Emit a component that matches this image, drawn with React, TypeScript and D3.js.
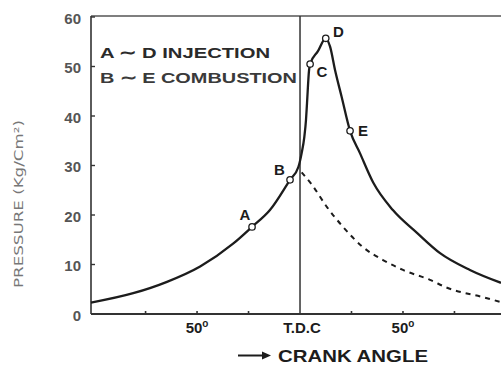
import { scaleLinear, line, curveMonotoneX } from "d3";

// crank angle (deg, TDC = 0) and cylinder pressure (kg/cm2)
const solidAngle = [-101.5, -81, -64.6, -48.5, -32.5, -23.3, -14.6, -4.85, -0.8, 0.8, 2.1, 2.9, 3.4, 4.4, 4.9, 8.7, 12.5, 14.6, 17.0, 20.2, 24.3, 29.1, 35.6, 45.1, 56.8, 68, 82.5, 97.6];
const solidPressure = [2.3, 4.2, 6.5, 9.6, 14.2, 17.6, 21.0, 27.1, 29.7, 32.5, 35.8, 39.2, 42.6, 49.3, 50.5, 53.1, 55.7, 54.0, 49.3, 43.9, 37.0, 32.5, 26.5, 21.0, 16.4, 12.3, 8.9, 6.3];

// motoring (no combustion) curve
const dashAngle = [0.8, 5.8, 13.1, 20.9, 30.6, 40.3, 50, 63.1, 71.4, 88.8, 97.6];
const dashPressure = [28.6, 26.1, 21.6, 17.6, 13.5, 10.9, 8.9, 6.9, 5.3, 3.4, 2.4];

const pointNames = ["A", "B", "C", "D", "E"];
const pointAngle = [-23.3, -4.85, 4.9, 12.5, 24.3];
const pointPressure = [17.6, 27.1, 50.5, 55.7, 37.0];

const yTicks = [0, 10, 20, 30, 40, 50, 60];
const xMinorTicks = [-75, -50, -25, 25, 50, 75];
const xLabelAngles = [-50, 0, 50];
const xLabelTexts = ["50", "T.D.C", "50"];

const legendLines = ["A \u223C D INJECTION", "B \u223C E COMBUSTION"];

const W = 501;
const H = 365;
const font = "'Liberation Sans', Arial, Helvetica, sans-serif";
const ink = "#1c1c1c";

export default function App() {
  const x = scaleLinear().domain([-101.5, 97.6]).range([91, 501]);
  const y = scaleLinear().domain([0, 60]).range([314, 17]);

  const gen = line<[number, number]>()
    .x((d) => x(d[0]))
    .y((d) => y(d[1]))
    .curve(curveMonotoneX);

  const solid = gen(solidAngle.map((a, i) => [a, solidPressure[i]] as [number, number])) || "";
  const dashed = gen(dashAngle.map((a, i) => [a, dashPressure[i]] as [number, number])) || "";

  // label offsets around each marker (px)
  const labelDx = [-7, -10.5, 11.7, 12.6, 13];
  const labelDy = [-7, -5, 12.7, -1.6, 5];

  return (
    <svg
      width={W}
      height={H}
      style={{ position: "absolute", left: 0, top: 0, background: "#fff" }}
      fontFamily={font}
    >
      <rect width={W} height={H} fill="#fff" />

      {/* frame: top line, y axis, x axis */}
      <line x1={x.range()[0]} x2={W} y1={y(60) - 1} y2={y(60) - 1} stroke="#555" strokeWidth={1.6} />
      <line x1={x.range()[0]} x2={x.range()[0]} y1={y(60) - 1} y2={y(0)} stroke="#333" strokeWidth={1.6} />
      <line x1={x.range()[0]} x2={W} y1={y(0)} y2={y(0)} stroke="#333" strokeWidth={1.8} />

      {/* TDC line */}
      <line x1={x(0)} x2={x(0)} y1={y(60) - 1} y2={y(0)} stroke="#333" strokeWidth={1.5} />

      {/* y ticks */}
      {yTicks.map((t) => (
        <g key={t}>
          <line x1={x.range()[0]} x2={x.range()[0] + 4} y1={y(t)} y2={y(t)} stroke="#333" strokeWidth={1.4} />
          <text x={81} y={y(t) + 1.5} dy="0.35em" textAnchor="end" fontSize={15} fontWeight="bold" fill="#555">
            {t}
          </text>
        </g>
      ))}

      {/* x ticks */}
      {xMinorTicks.map((t) => (
        <line key={t} x1={x(t)} x2={x(t)} y1={y(0)} y2={y(0) - 3} stroke="#333" strokeWidth={1.6} />
      ))}
      {xLabelAngles.map((a, i) => (
        <text key={i} x={x(a) + (i === 1 ? 2 : 0)} y={333} textAnchor="middle" fontSize={15} fontWeight="bold" fill={ink}>
          {xLabelTexts[i]}
          {i !== 1 && (
            <tspan fontSize={10} dy={-6}>
              o
            </tspan>
          )}
        </text>
      ))}

      {/* x axis title */}
      <line x1={238} x2={264} y1={355.5} y2={355.5} stroke={ink} strokeWidth={2} />
      <path d="M262,351.5 L271,355.5 L262,359.5 Z" fill={ink} />
      <text x={278} y={362} fontSize={16.5} fontWeight="bold" fill={ink} textLength={150} lengthAdjust="spacingAndGlyphs">
        CRANK ANGLE
      </text>

      {/* y axis title */}
      <text
        transform="translate(23,204) rotate(-90)"
        textAnchor="middle"
        fontSize={13}
        fill="#777"
        fontFamily="'Liberation Sans Narrow', 'DejaVu Sans Condensed', sans-serif"
        textLength={168}
        lengthAdjust="spacingAndGlyphs"
      >
        PRESSURE (Kg/Cm²)
      </text>

      {/* legend */}
      {legendLines.map((t, i) => (
        <text
          key={i}
          x={100}
          y={58 + i * 25}
          fontSize={15.5}
          fontWeight="bold"
          fill={i === 0 ? "#2a2a2a" : "#3a3a3a"}
          textLength={i === 0 ? 170 : 197}
          lengthAdjust="spacingAndGlyphs"
        >
          {t}
        </text>
      ))}

      {/* curves */}
      <path d={dashed} fill="none" stroke={ink} strokeWidth={2} strokeDasharray="5 5" />
      <path d={solid} fill="none" stroke={ink} strokeWidth={2.3} strokeLinejoin="round" />

      {/* markers */}
      {pointNames.map((n, i) => (
        <g key={n}>
          <circle cx={x(pointAngle[i])} cy={y(pointPressure[i])} r={3.2} fill="#fff" stroke={ink} strokeWidth={1.3} />
          <text
            x={x(pointAngle[i]) + labelDx[i]}
            y={y(pointPressure[i]) + labelDy[i]}
            textAnchor="middle"
            fontSize={15}
            fontWeight="bold"
            fill={ink}
          >
            {n}
          </text>
        </g>
      ))}
    </svg>
  );
}
